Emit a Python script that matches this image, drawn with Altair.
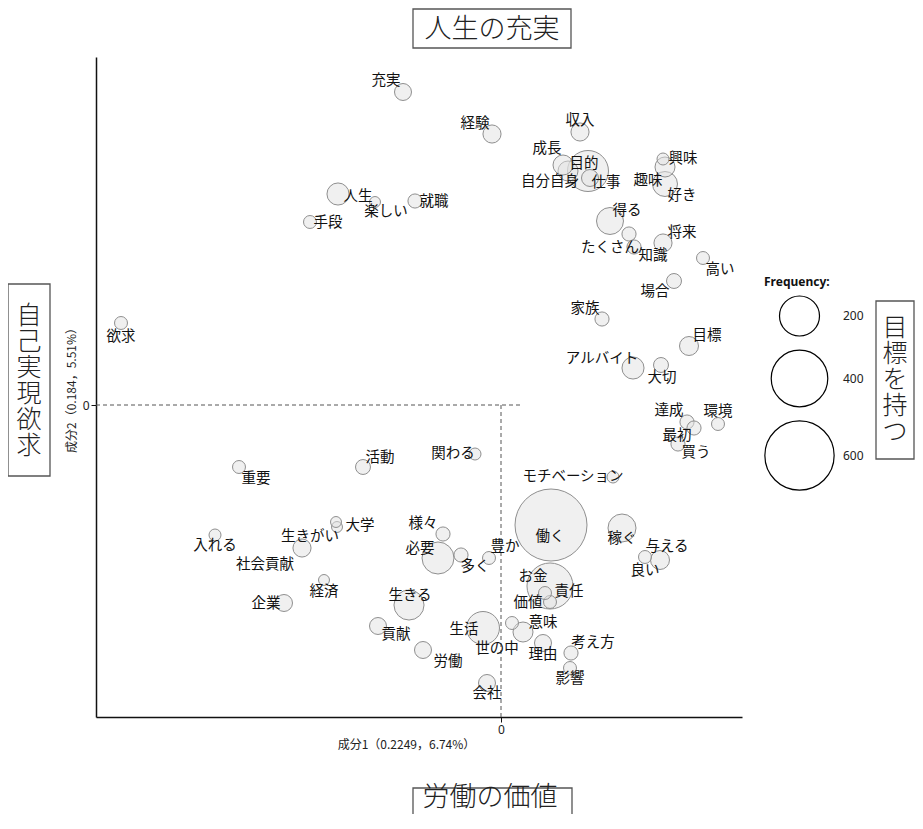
import altair as alt
import pandas as pd

# ---- data (component scores) ----
words = ["充実", "経験", "収入", "成長", "目的", "自分自身", "仕事", "興味", "趣味", "好き",
         "得る", "たくさん", "知識", "将来", "高い", "場合", "家族", "目標", "アルバイト", "大切",
         "達成", "環境", "最初", "買う", "欲求", "人生", "楽しい", "就職", "手段", "活動",
         "関わる", "重要", "大学", "生きがい", "社会貢献", "入れる", "様々", "必要", "多く", "豊か",
         "経済", "企業", "生きる", "モチベーション", "働く", "稼ぐ", "与える", "良い", "お金", "責任",
         "価値", "意味", "世の中", "理由", "生活", "考え方", "影響", "会社", "労働", "貢献"]
dim1 = [-0.49, -0.045, 0.395, 0.31, 0.445, 0.335, 0.435, 0.81, 0.82, 0.82,
        0.545, 0.64, 0.665, 0.81, 1.01, 0.865, 0.505, 0.94, 0.66, 0.80,
        0.93, 1.085, 0.965, 0.885, -1.90, -0.815, -0.63, -0.43, -0.955, -0.69,
        -0.13, -1.31, -0.825, -0.82, -0.995, -1.43, -0.29, -0.315, -0.20, -0.06,
        -0.885, -1.085, -0.46, 0.56, 0.25, 0.605, 0.795, 0.72, 0.245, 0.22,
        0.245, 0.11, 0.055, 0.21, -0.09, 0.35, 0.345, -0.07, -0.39, -0.615]
dim2 = [1.565, 1.355, 1.365, 1.20, 1.135, 1.17, 1.17, 1.23, 1.19, 1.105,
        0.92, 0.855, 0.79, 0.81, 0.735, 0.62, 0.43, 0.295, 0.185, 0.20,
        -0.085, -0.095, -0.115, -0.195, 0.41, 1.055, 1.015, 1.02, 0.915, -0.31,
        -0.245, -0.31, -0.585, -0.61, -0.715, -0.65, -0.645, -0.765, -0.75, -0.765,
        -0.875, -0.99, -1.0, -0.36, -0.60, -0.615, -0.775, -0.76, -0.905, -0.94,
        -0.985, -1.135, -1.09, -1.19, -1.115, -1.24, -1.315, -1.39, -1.225, -1.105]
frequency = [36, 41, 41, 50, 36, 50, 210, 18, 50, 78,
             91, 25, 25, 41, 21, 28, 25, 45, 61, 28,
             25, 21, 25, 25, 21, 61, 15, 25, 21, 28,
             18, 21, 15, 15, 41, 18, 25, 128, 25, 21,
             15, 36, 113, 18, 648, 98, 45, 21, 265, 21,
             21, 50, 21, 36, 136, 25, 21, 36, 36, 36]
label_dim1 = [-0.575, -0.13, 0.395, 0.23, 0.415, 0.245, 0.525, 0.91, 0.735, 0.905,
              0.63, 0.545, 0.76, 0.905, 1.095, 0.77, 0.42, 1.03, 0.505, 0.805,
              0.84, 1.085, 0.88, 0.975, -1.90, -0.715, -0.575, -0.335, -0.865, -0.605,
              -0.24, -1.225, -0.705, -0.955, -1.18, -1.43, -0.39, -0.405, -0.13, 0.02,
              -0.885, -1.175, -0.455, 0.36, 0.245, 0.605, 0.83, 0.72, 0.16, 0.34,
              0.135, 0.21, -0.02, 0.21, -0.185, 0.46, 0.345, -0.07, -0.265, -0.525]
label_dim2 = [1.62, 1.405, 1.42, 1.28, 1.205, 1.115, 1.11, 1.23, 1.12, 1.045,
              0.97, 0.785, 0.745, 0.86, 0.675, 0.565, 0.48, 0.345, 0.23, 0.135,
              -0.03, -0.035, -0.155, -0.24, 0.34, 1.04, 0.965, 1.015, 0.91, -0.265,
              -0.245, -0.37, -0.605, -0.66, -0.80, -0.705, -0.595, -0.72, -0.81, -0.71,
              -0.935, -0.995, -0.955, -0.36, -0.66, -0.67, -0.71, -0.83, -0.86, -0.935,
              -0.99, -1.09, -1.22, -1.25, -1.125, -1.19, -1.37, -1.445, -1.285, -1.15]

legend_values = [200, 400, 600]
x_domain = [-2.025, 1.205]
y_domain = [-1.56, 1.74]
# origin guide lines (dashed)
vline_x, vline_y_from, vline_y_to = [0.0], [-1.56], [0.01]
hline_y, hline_x_from, hline_x_to = [0.0], [-2.025], [0.11]

x_title = "成分1（0.2249，6.74%）"
y_title = "成分2（0.184，5.51%）"
top_note, bottom_note, left_note, right_note = "人生の充実", "労働の価値", "自己実現欲求", "目標を持つ"

df = pd.DataFrame({"word": words, "x": dim1, "y": dim2, "freq": frequency,
                   "lx": label_dim1, "ly": label_dim2})
df = df.sort_values("freq", ascending=False).reset_index(drop=True)

JP = "Noto Sans CJK JP"
xs = alt.Scale(domain=x_domain, nice=False, zero=False)
ys = alt.Scale(domain=y_domain, nice=False, zero=False)
ss = alt.Scale(type="linear", domain=[0, 600], range=[0, 4800], zero=True)

xenc = alt.X("x:Q", scale=xs, axis=alt.Axis(values=[0], format="d", title=x_title, titleX=310))
yenc = alt.Y("y:Q", scale=ys, axis=alt.Axis(values=[0], format="d", title=y_title))

bubbles = alt.Chart(df).mark_circle(
    fill="#e2e2e2", fillOpacity=0.5, stroke="#8f8f8f", strokeWidth=1, opacity=1
).encode(x=xenc, y=yenc, size=alt.Size("freq:Q", scale=ss, legend=None))

legend_layer = alt.Chart(df).transform_filter("false").mark_point(
    shape="circle", filled=False, color="black", strokeWidth=1.2, opacity=1
).encode(
    x=alt.X("x:Q", scale=xs), y=alt.Y("y:Q", scale=ys),
    size=alt.Size("freq:Q", scale=ss, legend=alt.Legend(
        title="Frequency:", values=legend_values, orient="none", legendX=668, legendY=220,
        titleFont="Noto Sans", titleFontSize=12, titleFontWeight="bold", titleColor="#111",
        titlePadding=6, labelFont="Noto Sans", labelFontSize=12, labelColor="#222",
        labelOffset=8, rowPadding=8.5, padding=0,
        symbolStrokeColor="black", symbolStrokeWidth=1.2, symbolOpacity=1)))

labels = alt.Chart(df).mark_text(font=JP, fontSize=14.5, color="#111", align="center",
                                 baseline="middle").encode(
    x=alt.X("lx:Q", scale=xs), y=alt.Y("ly:Q", scale=ys), text="word:N")

vdf = pd.DataFrame({"x": vline_x, "y": vline_y_from, "y2": vline_y_to})
hdf = pd.DataFrame({"y": hline_y, "x": hline_x_from, "x2": hline_x_to})
vrule = alt.Chart(vdf).mark_rule(color="#555", strokeDash=[4, 3], strokeWidth=1).encode(
    x=alt.X("x:Q", scale=xs), y=alt.Y("y:Q", scale=ys), y2="y2:Q")
hrule = alt.Chart(hdf).mark_rule(color="#555", strokeDash=[4, 3], strokeWidth=1).encode(
    y=alt.Y("y:Q", scale=ys), x=alt.X("x:Q", scale=xs), x2="x2:Q")

one = pd.DataFrame({"k": [0]})


def box(x1, x2, y1, y2):
    return alt.Chart(one).mark_rect(fill="white", fillOpacity=0, stroke="#555",
                                    strokeWidth=1.3).encode(
        x=alt.value(x1), x2=alt.value(x2), y=alt.value(y1), y2=alt.value(y2))


def note(txt, x, y, vertical=False):
    t = "\n".join(txt) if vertical else txt
    size = 25 if vertical else 27
    return alt.Chart(one).mark_text(font=JP, fontSize=size, fontWeight=300, lineBreak="\n",
                                    color="#222", align="center", baseline="middle",
                                    lineHeight=26).encode(
        x=alt.value(x), y=alt.value(y), text=alt.value(t))


notes = [
    box(317, 475, -48, -9), note(top_note, 396, -27),
    box(317, 476, 731, 790), note(bottom_note, 394, 741),
    box(-88, -46, 227, 419), note(left_note, -67, 259, True),
    box(780, 818, 244, 402), note(right_note, 799, 271, True),
]

chart = alt.layer(vrule, hrule, bubbles, legend_layer, labels, *notes).resolve_legend(
    size="independent"
).properties(
    width=646, height=660,
    padding={"left": 88, "top": 49, "right": 173, "bottom": 97},
    autosize=alt.AutoSizeParams(type="none"),
).configure_view(stroke=None).configure_axis(
    grid=False, domainColor="#111", domainWidth=1.5, tickColor="#111", tickSize=5,
    labelFont="Noto Sans", labelFontSize=12, labelColor="#222",
    titleFont=JP, titleFontSize=12, titleFontWeight="normal", titleColor="#222",
)

chart.save("out.html", embed_options={"renderer": "svg", "actions": False})
